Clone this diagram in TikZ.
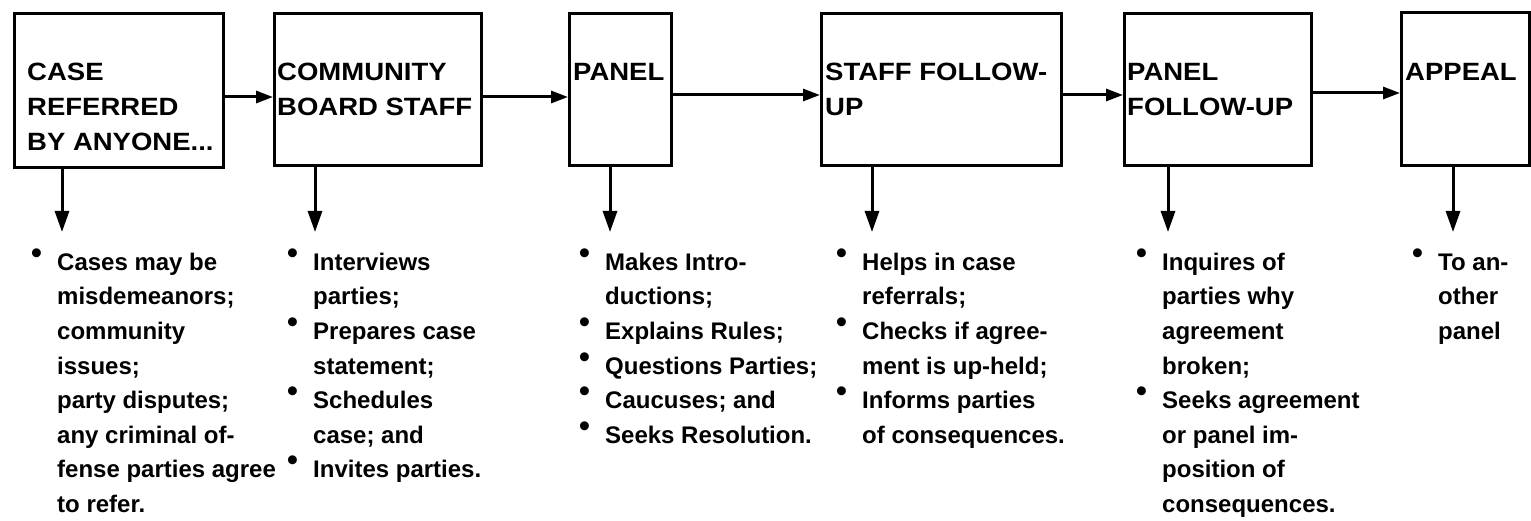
\documentclass[tikz,border=0pt]{standalone}
\usepackage{fontspec}
\setmainfont{Liberation Sans}
\newfontfamily\ttlfont[FakeStretch=1.1]{Liberation Sans}
\newfontfamily\bodyfont{Liberation Sans}
\usetikzlibrary{arrows.meta}
\newcommand\blt{\makebox[26pt][l]{\smash{\raisebox{7pt}{\fontsize{31}{31}\selectfont\textbullet}}}}
\newcommand\ind{\hspace*{26pt}}
\newcommand\fst{\rule{0pt}{20pt}}
\tikzset{
  box/.style={draw, line width=3.2pt, rectangle, anchor=north west, inner sep=0pt},
  ttl/.style={anchor=north west, inner sep=0pt, align=left,
    font={\ttlfont\bfseries\fontsize{25}{35}\selectfont}},
  body/.style={anchor=north west, inner sep=0pt, align=left,
    font={\bodyfont\bfseries\fontsize{24}{34.6}\selectfont}},
  harr/.style={line width=3pt, -{Triangle[length=17pt,width=12pt]}},
  varr/.style={line width=3pt, -{Triangle[length=21pt,width=14pt]}}
}
\begin{document}
\begin{tikzpicture}[x=1pt,y=-1pt]
\useasboundingbox[fill=white] (0,0) rectangle (1531,521);
% boxes
\node[box, minimum width=209pt, minimum height=154pt] (b1) at (13,12) {};
\node[box, minimum width=207pt, minimum height=152pt] (b2) at (273,12) {};
\node[box, minimum width=102pt, minimum height=152pt] (b3) at (568,12) {};
\node[box, minimum width=240pt, minimum height=152pt] (b4) at (820,12) {};
\node[box, minimum width=187pt, minimum height=152pt] (b5) at (1123,12) {};
\node[box, minimum width=128pt, minimum height=153pt] (b6) at (1400,11) {};
% titles
\node[ttl] (t1) at (27,60) {\fst CASE\\REFERRED\\BY ANYONE...};
\node[ttl] (t2) at (277,60) {\fst COMMUNITY\\BOARD STAFF};
\node[ttl] (t3) at (573,60) {\fst PANEL};
\node[ttl] (t4) at (825,60) {\fst STAFF FOLLOW-\\UP};
\node[ttl] (t5) at (1127,60) {\fst PANEL\\FOLLOW-UP};
\node[ttl] (t6) at (1405,60) {\fst APPEAL};
% horizontal arrows
\draw[harr] (b1.east |- 0,97) -- (b2.west |- 0,97);
\draw[harr] (b2.east |- 0,97) -- (b3.west |- 0,97);
\draw[harr] (b3.east |- 0,95) -- (b4.west |- 0,95);
\draw[harr] (b4.east |- 0,95) -- (b5.west |- 0,95);
\draw[harr] (b5.east |- 0,93) -- (b6.west |- 0,93);
% arrow ends
\coordinate (e1) at (62,232);
\coordinate (e2) at (315,232);
\coordinate (e3) at (610,232);
\coordinate (e4) at (872,232);
\coordinate (e5) at (1168,232);
\coordinate (e6) at (1453,232);
\draw[varr] (b1.south -| e1) -- (e1);
\draw[varr] (b2.south -| e2) -- (e2);
\draw[varr] (b3.south -| e3) -- (e3);
\draw[varr] (b4.south -| e4) -- (e4);
\draw[varr] (b5.south -| e5) -- (e5);
\draw[varr] (b6.south -| e6) -- (e6);
% lists
\node[body] (l1) at (31,250) {\fst\blt Cases may be\\\ind misdemeanors;\\\ind community\\\ind issues;\\\ind party disputes;\\\ind any criminal of-\\\ind fense parties agree\\\ind to refer.};
\node[body] (l2) at (287,250) {\fst\blt Interviews\\\ind parties;\\\blt Prepares case\\\ind statement;\\\blt Schedules\\\ind case; and\\\blt Invites parties.};
\node[body] (l3) at (579,250) {\fst\blt Makes Intro-\\\ind ductions;\\\blt Explains Rules;\\\blt Questions Parties;\\\blt Caucuses; and\\\blt Seeks Resolution.};
\node[body] (l4) at (836,250) {\fst\blt Helps in case\\\ind referrals;\\\blt Checks if agree-\\\ind ment is up-held;\\\blt Informs parties\\\ind of consequences.};
\node[body] (l5) at (1136,250) {\fst\blt Inquires of\\\ind parties why\\\ind agreement\\\ind broken;\\\blt Seeks agreement\\\ind or panel im-\\\ind position of\\\ind consequences.};
\node[body] (l6) at (1412,250) {\fst\blt To an-\\\ind other\\\ind panel};
\end{tikzpicture}
\end{document}
